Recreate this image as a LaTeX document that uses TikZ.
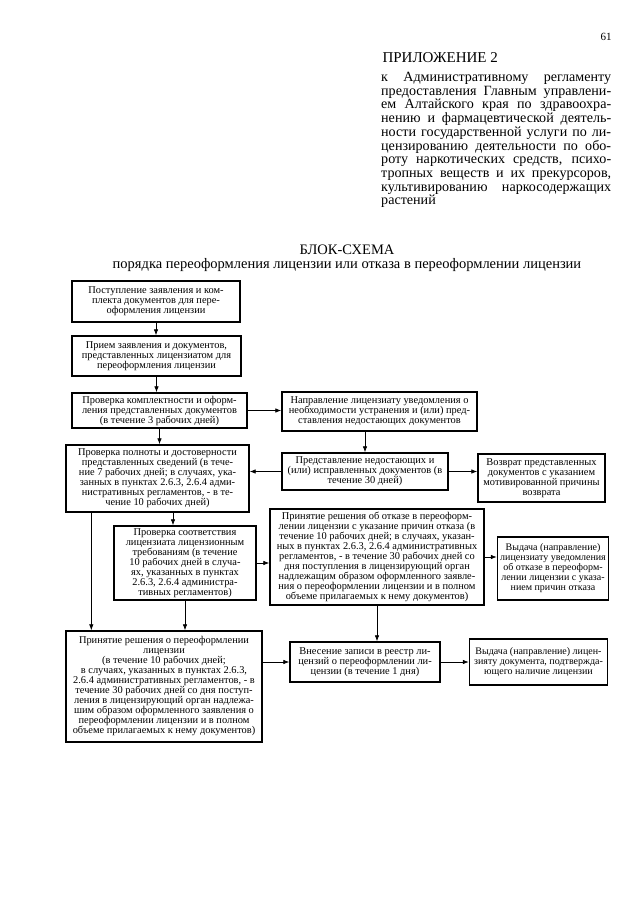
\documentclass[tikz,border=0pt]{standalone}
\usepackage{fontspec}
\setmainfont{Liberation Serif}
\usepackage{tikz}
\usetikzlibrary{arrows.meta}

\newcommand{\boxfont}{\fontsize{10.4}{10}\selectfont}
\newcommand{\jline}[1]{\makebox[230pt][s]{#1}}

\tikzset{
  blockbox/.style={draw, line width=1.4pt, align=center, inner sep=1pt, font=\boxfont},
  arr/.style={-{Latex[length=6pt,width=4.5pt]}, line width=0.7pt}
}

\begin{document}
\begin{tikzpicture}[x=1pt, y=-1pt]
      \useasboundingbox (0,0) rectangle (640,905);

      % Header
      \node[font=\fontsize{11}{12}\selectfont] (pagenum) at (606,37) {61};
      \node[anchor=west, font=\fontsize{15}{16}\selectfont] (app) at (379,58) {ПРИЛОЖЕНИЕ 2};
      \node[anchor=north west, align=left, inner sep=0pt, font=\fontsize{14.1}{13.7}\selectfont] (appText) at (381,72) {
          \jline{к Административному регламенту}\\
          \jline{предоставления Главным управлени-}\\
          \jline{ем Алтайского края по здравоохра-}\\
          \jline{нению и фармацевтической деятель-}\\
          \jline{ности государственной услуги по ли-}\\
          \jline{цензированию деятельности по обо-}\\
          \jline{роту наркотических средств, психо-}\\
          \jline{тропных веществ и их прекурсоров,}\\
          \jline{культивированию наркосодержащих}\\
          растений
      };

      % Title
      \node[font=\fontsize{14.5}{15}\selectfont] (title) at (347,250) {БЛОК-СХЕМА};
      \node[font=\fontsize{14.5}{15}\selectfont] (subtitle) at (347,265) {порядка переоформления лицензии или отказа в переоформлении лицензии};

      % Left column
      \node[blockbox, minimum width=168pt, minimum height=41pt] (b1) at (156,301.5) {
          Поступление заявления и ком-\\плекта документов для пере-\\оформления лицензии};
      \node[blockbox, minimum width=169pt, minimum height=40pt] (b2) at (156.5,356) {
          Прием заявления и документов,\\представленных лицензиатом для\\переоформления лицензии};
      \node[blockbox, minimum width=175pt, minimum height=35pt] (b3) at (159.5,410.5) {
          Проверка комплектности и оформ-\\ления представленных документов\\(в течение 3 рабочих дней)};
      \node[blockbox, minimum width=183pt, minimum height=67pt] (b6) at (157.5,478.5) {
          Проверка полноты и достоверности\\представленных сведений (в тече-\\ние 7 рабочих дней; в случаях, ука-\\занных в пунктах 2.6.3, 2.6.4 адми-\\нистративных регламентов, - в те-\\чение 10 рабочих дней)};
      \node[blockbox, minimum width=142pt, minimum height=74pt] (b8) at (185,563) {
          Проверка соответствия\\лицензиата лицензионным\\требованиям (в течение\\10 рабочих дней в случа-\\ях, указанных в пунктах\\2.6.3, 2.6.4 администра-\\тивных регламентов)};
      \node[blockbox, minimum width=196pt, minimum height=111pt] (b11) at (164,686.5) {
          Принятие решения о переоформлении\\лицензии\\(в течение 10 рабочих дней;\\в случаях, указанных в пунктах 2.6.3,\\2.6.4 административных регламентов, - в\\течение 30 рабочих дней со дня поступ-\\ления в лицензирующий орган надлежа-\\шим образом оформленного заявления о\\переоформлении лицензии и в полном\\объеме прилагаемых к нему документов)};

      % Middle column
      \node[blockbox, minimum width=195pt, minimum height=39pt] (b4) at (379.5,411.5) {
          Направление лицензиату уведомления о\\необходимости устранения и (или) пред-\\ставления недостающих документов};
      \node[blockbox, minimum width=166pt, minimum height=37pt] (b5) at (365,471.5) {
          Представление недостающих и\\(или) исправленных документов (в\\течение 30 дней)};
      \node[blockbox, minimum width=214pt, minimum height=96pt] (b9) at (377,557) {
          Принятие решения об отказе в переоформ-\\лении лицензии с указание причин отказа (в\\течение 10 рабочих дней; в случаях, указан-\\ных в пунктах 2.6.3, 2.6.4 административных\\регламентов, - в течение 30 рабочих дней со\\дня поступления в лицензирующий орган\\надлежащим образом оформленного заявле-\\ния о переоформлении лицензии и в полном\\объеме прилагаемых к нему документов)};
      \node[blockbox, minimum width=150pt, minimum height=40pt] (b12) at (365,662) {
          Внесение записи в реестр ли-\\цензий о переоформлении ли-\\цензии (в течение 1 дня)};

      % Right column
      \node[blockbox, minimum width=127pt, minimum height=48pt] (b7) at (541.5,478) {
          Возврат представленных\\документов с указанием\\мотивированной причины\\возврата};
      \node[blockbox, minimum width=111pt, minimum height=63pt, font=\fontsize{10}{10}\selectfont] (b10) at (553,568.5) {
          Выдача (направление)\\лицензиату уведомления\\об отказе в переоформ-\\лении лицензии с указа-\\нием причин отказа};
      \node[blockbox, minimum width=138pt, minimum height=46pt, font=\fontsize{10}{10}\selectfont] (b13) at (538.5,662) {
          Выдача (направление) лицен-\\зияту документа, подтвержда-\\ющего наличие лицензии};

      % Arrows
      \draw[arr] (b1.south) -- (b1.south |- b2.north);
      \draw[arr] (b2.south) -- (b2.south |- b3.north);
      \draw[arr] (b3.east) -- (b3.east -| b4.west);
      \draw[arr] (b3.south) -- (b3.south |- b6.north);
      \draw[arr] (b5.north |- b4.south) -- (b5.north);
      \draw[arr] (b5.west) -- (b5.west -| b6.east);
      \draw[arr] (b5.east) -- (b5.east -| b7.west);
      \draw[arr] ([xshift=-12pt]b8.north |- b6.south) -- ([xshift=-12pt]b8.north);
      \draw[arr] ([xshift=26pt]b6.south west) -- ([xshift=26pt]b6.south west |- b11.north);
      \draw[arr] (b8.south) -- (b8.south |- b11.north);
      \draw[arr] (b8.east) -- (b8.east -| b9.west);
      \draw[arr] (b9.east) -- (b9.east -| b10.west);
      \draw[arr] (b9.south) -- (b9.south |- b12.north);
      \draw[arr] (b12.west -| b11.east) -- (b12.west);
      \draw[arr] (b12.east) -- (b12.east -| b13.west);
\end{tikzpicture}
\end{document}
